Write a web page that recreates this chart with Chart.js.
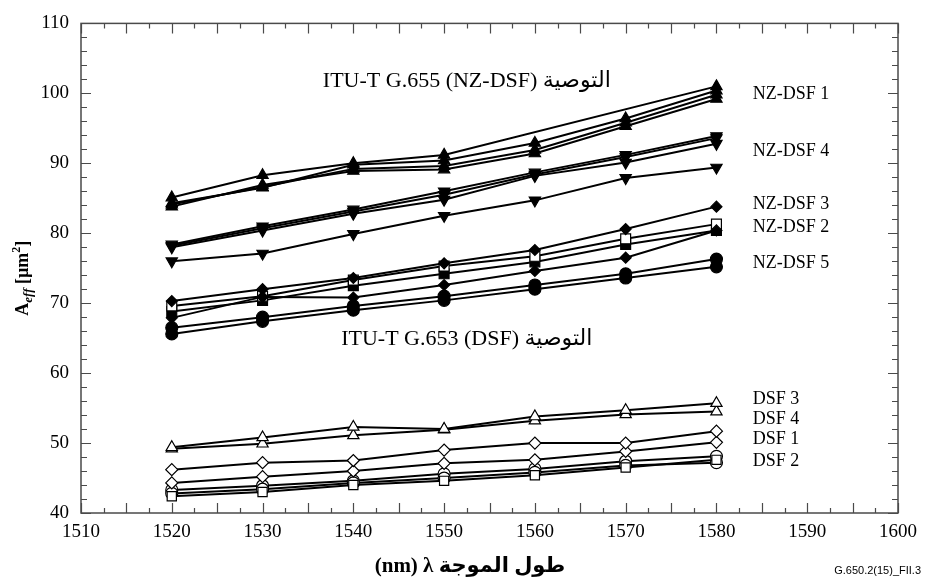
<!DOCTYPE html>
<html lang="ar">
<head>
<meta charset="UTF-8">
<title>Aeff versus wavelength</title>
<script src="https://cdn.jsdelivr.net/npm/chart.js"></script>
<style>
  body { margin: 0; background: #fff; }
  #wrap { width: 925px; height: 587px; }
</style>
</head>
<body>
<div id="wrap"><canvas id="aeffChart" width="925" height="587"></canvas></div>
<script>
// wavelengths (nm) at which A_eff was measured
const wavelengths = [1520, 1530, 1540, 1550, 1560, 1570, 1580];

// G.655 (NZ-DSF) fibres
const nzdsf1a = [85.1, 88.3, 90.0, 91.2, null, null, 101.0];
const nzdsf1b = [84.3, 86.5, 89.8, 90.4, 92.9, 96.4, 100.4];
const nzdsf1c = [84.1, 86.6, 89.2, 89.6, 91.9, 95.8, 99.8];
const nzdsf1d = [83.8, 86.9, 88.9, 89.1, 91.4, 95.3, 99.2];

const nzdsf4a = [78.4, 81.0, 83.4, 86.0, 88.7, 91.2, 93.9];
const nzdsf4b = [78.2, 80.7, 83.1, 85.5, 88.4, 90.9, 93.6];
const nzdsf4c = [78.0, 80.4, 82.8, 84.8, 88.2, 90.1, 92.8];
const nzdsf4d = [76.0, 77.1, 79.9, 82.5, 84.7, 87.9, 89.4];

const nzdsf3a = [70.3, 72.0, 73.6, 75.7, 77.6, 80.6, 83.8];
const nzdsf3b = [67.9, 70.9, 70.8, 72.6, 74.6, 76.5, 80.4];

const nzdsf2open = [69.6, 71.0, 73.3, 75.3, 76.7, 79.2, 81.3];
const nzdsf2fill = [68.8, 70.4, 72.5, 74.2, 75.9, 78.4, 80.4];

const nzdsf5a = [66.5, 68.0, 69.6, 71.0, 72.6, 74.2, 76.3];
const nzdsf5b = [65.6, 67.4, 69.0, 70.4, 72.0, 73.6, 75.2];

// G.653 (DSF) fibres
const dsf3 = [49.4, 50.8, 52.3, 52.0, 53.8, 54.7, 55.7];
const dsf4 = [49.2, 49.9, 51.1, 51.9, 53.2, 54.1, 54.5];
const dsf1a = [46.2, 47.2, 47.5, 49.0, 50.0, 50.0, 51.7];
const dsf1b = [44.3, 45.2, 46.0, 47.1, 47.6, 48.8, 50.1];
const dsf2c1 = [43.3, 43.9, 44.6, 45.6, 46.3, 47.4, 48.1];
const dsf2c2 = [42.8, 43.4, 44.3, 45.0, 45.8, 46.8, 47.2];
const dsf2sq = [42.4, 43.0, 44.0, 44.6, 45.4, 46.5, 47.6];

// fibre names written at the right of the curves, and the A_eff they sit at
const fibreNames = ['NZ-DSF 1', 'NZ-DSF 4', 'NZ-DSF 3', 'NZ-DSF 2', 'NZ-DSF 5',
                    'DSF 3', 'DSF 4', 'DSF 1', 'DSF 2'];
const fibreNameAt = [99.9, 91.7, 84.1, 80.8, 75.7, 56.3, 53.4, 50.5, 47.4];
const fibreNameX = 1584;

const groupNotes = ['ITU-T G.655 (NZ-DSF) التوصية', 'ITU-T G.653 (DSF) التوصية'];
const groupNoteAt = [[1552.5, 101.8], [1552.5, 64.9]];

const xTitle = '(nm) λ طول الموجة';
const footnote = 'G.650.2(15)_FII.3';

const SERIF = '"Liberation Serif", "DejaVu Sans", serif';

function series(values, shape, filled, extra) {
    return Object.assign({
        data: wavelengths.map((x, i) => ({ x: x, y: values[i] })),
        borderColor: '#000',
        borderWidth: 2,
        pointStyle: shape,
        pointRadius: 6,
        pointBorderWidth: 1.2,
        pointBackgroundColor: filled ? '#000' : '#fff',
        pointBorderColor: '#000',
        spanGaps: true,
        tension: 0,
        fill: false
    }, extra || {});
}

const down = { pointRotation: 180 };

const datasets = [
    series(nzdsf1a, 'triangle', true, { pointRadius: 6.5 }),
    series(nzdsf1b, 'triangle', true, { pointRadius: 6.5 }),
    series(nzdsf1c, 'triangle', true, { pointRadius: 6.5 }),
    series(nzdsf1d, 'triangle', true, { pointRadius: 6.5 }),
    series(nzdsf4a, 'triangle', true, Object.assign({ pointRadius: 6.5 }, down)),
    series(nzdsf4b, 'triangle', true, Object.assign({ pointRadius: 6.5 }, down)),
    series(nzdsf4c, 'triangle', true, Object.assign({ pointRadius: 6.5 }, down)),
    series(nzdsf4d, 'triangle', true, Object.assign({ pointRadius: 6.5 }, down)),
    series(nzdsf3a, 'rectRot', true, { pointRadius: 5.5 }),
    series(nzdsf3b, 'rectRot', true, { pointRadius: 5.5 }),
    series(nzdsf2open, 'rect', false, { pointRadius: 7 }),
    series(nzdsf2fill, 'rect', true, { pointRadius: 7 }),
    series(nzdsf5a, 'circle', true, { pointRadius: 6 }),
    series(nzdsf5b, 'circle', true, { pointRadius: 6 }),
    series(dsf3, 'triangle', false, { pointRadius: 6.5 }),
    series(dsf4, 'triangle', false, { pointRadius: 6.5 }),
    series(dsf1a, 'rectRot', false, { pointRadius: 6 }),
    series(dsf1b, 'rectRot', false, { pointRadius: 6 }),
    series(dsf2sq, 'rect', false, { pointRadius: 6.5 }),
    series(dsf2c2, 'circle', false, { pointRadius: 6 }),
    series(dsf2c1, 'circle', false, { pointRadius: 6 })
];

// box, inward ticks, text labels and axis titles
const framePlugin = {
    id: 'frame',
    afterDraw(chart) {
        const ctx = chart.ctx;
        const a = chart.chartArea;
        const xs = chart.scales.x;
        const ys = chart.scales.y;
        ctx.save();
        ctx.strokeStyle = '#4a4a4a';
        ctx.lineWidth = 1.5;
        ctx.strokeRect(a.left, a.top, a.right - a.left, a.bottom - a.top);

        ctx.lineWidth = 1.2;
        ctx.beginPath();
        for (let v = xs.min; v <= xs.max + 0.01; v += 2.5) {
            const px = Math.round(xs.getPixelForValue(v)) + 0.5;
            const len = (v % 5 === 0) ? 10 : 5;
            ctx.moveTo(px, a.bottom); ctx.lineTo(px, a.bottom - len);
            ctx.moveTo(px, a.top); ctx.lineTo(px, a.top + len);
        }
        for (let v = ys.min; v <= ys.max + 0.01; v += 2) {
            const py = Math.round(ys.getPixelForValue(v)) + 0.5;
            const len = (v % 10 === 0) ? 10 : 6;
            ctx.moveTo(a.left, py); ctx.lineTo(a.left + len, py);
            ctx.moveTo(a.right, py); ctx.lineTo(a.right - len, py);
        }
        ctx.stroke();

        ctx.fillStyle = '#000';
        ctx.textBaseline = 'middle';

        // fibre names
        ctx.font = '18px ' + SERIF;
        ctx.textAlign = 'left';
        fibreNames.forEach((name, i) => {
            ctx.fillText(name, xs.getPixelForValue(fibreNameX), ys.getPixelForValue(fibreNameAt[i]));
        });

        // recommendation notes
        ctx.font = '22px ' + SERIF;
        ctx.textAlign = 'center';
        groupNotes.forEach((note, i) => {
            ctx.fillText(note, xs.getPixelForValue(groupNoteAt[i][0]), ys.getPixelForValue(groupNoteAt[i][1]));
        });

        // x title
        ctx.font = 'bold 21px ' + SERIF;
        ctx.fillText(xTitle, 470, 567);

        // footnote
        ctx.font = '11px "Liberation Sans", Arial, sans-serif';
        ctx.textAlign = 'right';
        ctx.fillText(footnote, 921, 571);

        // y title: A_eff [um^2]
        ctx.translate(22, (a.top + a.bottom) / 2 + 10);
        ctx.rotate(-Math.PI / 2);
        ctx.textAlign = 'left';
        ctx.textBaseline = 'alphabetic';
        const parts = [
            { t: 'A', f: 'bold 18px ' + SERIF, dy: 0 },
            { t: 'eff', f: 'italic bold 13px ' + SERIF, dy: 4 },
            { t: ' [µm', f: 'bold 18px ' + SERIF, dy: 0 },
            { t: '2', f: 'bold 12px ' + SERIF, dy: -8 },
            { t: ']', f: 'bold 18px ' + SERIF, dy: 0 }
        ];
        let total = 0;
        parts.forEach(p => { ctx.font = p.f; p.w = ctx.measureText(p.t).width; total += p.w; });
        let x = -total / 2;
        parts.forEach(p => { ctx.font = p.f; ctx.fillText(p.t, x, 6 + p.dy); x += p.w; });
        ctx.restore();
    }
};

new Chart(document.getElementById('aeffChart'), {
    type: 'line',
    data: { datasets: datasets },
    options: {
        responsive: false,
        animation: false,
        devicePixelRatio: 1,
        layout: { padding: { left: 0, right: 23, top: 13, bottom: 0 } },
        plugins: { legend: { display: false }, tooltip: { enabled: false } },
        scales: {
            x: {
                type: 'linear',
                min: 1510,
                max: 1600,
                ticks: { stepSize: 10, color: '#000', padding: 8, maxRotation: 0,
                         callback: v => String(v),
                         font: { family: SERIF, size: 19 } },
                grid: { display: false, drawTicks: false },
                border: { display: false },
                afterFit: s => { s.height = 74; }
            },
            y: {
                type: 'linear',
                min: 40,
                max: 110,
                ticks: { stepSize: 10, color: '#000', padding: 12,
                         callback: v => String(v),
                         font: { family: SERIF, size: 19 } },
                grid: { display: false, drawTicks: false },
                border: { display: false },
                afterFit: s => { s.width = 81; }
            }
        }
    },
    plugins: [framePlugin]
});
</script>
</body>
</html>
